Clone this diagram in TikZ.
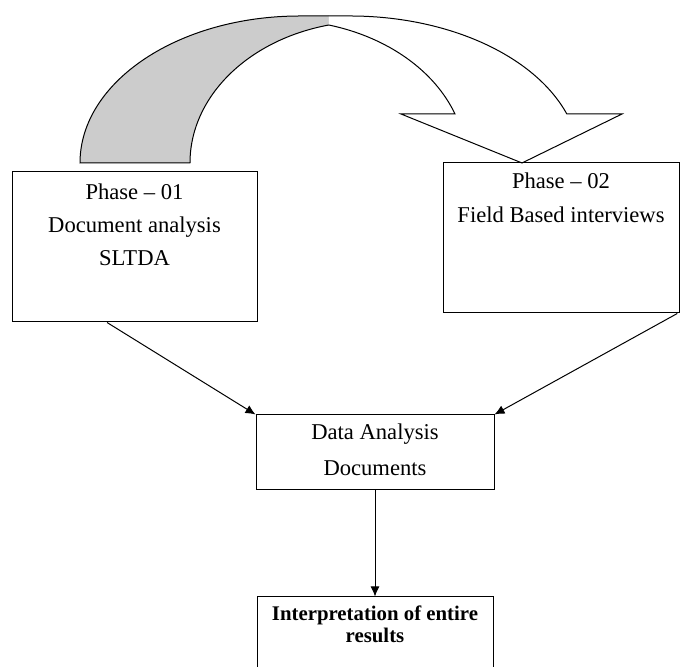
\documentclass[tikz,border=0pt]{standalone}
\usepackage{fontspec}
\setmainfont{Liberation Serif}
\usetikzlibrary{positioning,arrows.meta}
\begin{document}
\begin{tikzpicture}[x=0.5pt,y=0.5pt,line width=0.5pt,
    box/.style={draw,rectangle,inner sep=0pt},
    txt/.style={inner sep=0pt,align=center,font=\fontsize{11.3}{16.5}\selectfont},
    flow/.style={-{Latex[length=5pt,width=4.5pt]}}]
\clip (0,0) rectangle (680,667);
\filldraw[fill=gray!40] (328.9,642) arc[start angle=103.2,end angle=180,x radius=180,y radius=141.7]
    -- (80,504) arc[start angle=180,end angle=90,x radius=220,y radius=147] -- (328.9,651);
\filldraw[fill=white] (328.9,651) -- (350,651) arc[start angle=90,end angle=19.47,x radius=230,y radius=147]
    -- (622,553) -- (522,504) -- (401,553) -- (455,553)
    arc[start angle=20.04,end angle=74.75,x radius=186.3,y radius=143];

\node[box,minimum width=122.5pt,minimum height=75pt] (ph1) at (134.5,420) {};
\node[txt,below=6pt of ph1.north] (ph1txt) {Phase -- 01\\Document analysis\\SLTDA};
\node[box,minimum width=118pt,minimum height=75pt] (ph2) at (561,429) {};
\node[txt,below=5pt of ph2.north,font=\fontsize{11.3}{17}\selectfont] (ph2txt) {Phase -- 02\\Field Based interviews};
\node[box,minimum width=119pt,minimum height=37.5pt] (data) at (375,214.5) {};
\node[txt,below=4.5pt of data.north,font=\fontsize{11.3}{18}\selectfont] (datatxt) {Data Analysis\\Documents};
\node[box,minimum width=118pt,minimum height=51pt] (interp) at (375,19) {};
\node[txt,below=4.5pt of interp.north,font=\fontsize{10.4}{11}\selectfont\bfseries] (interptxt) {Interpretation of entire\\results};

\draw[flow] (ph1.250.5)--(data.north west);
\draw[flow] (ph2.-33)--(data.north east);
\draw[flow] (data.south)--(interp.north);
\end{tikzpicture}
\end{document}
